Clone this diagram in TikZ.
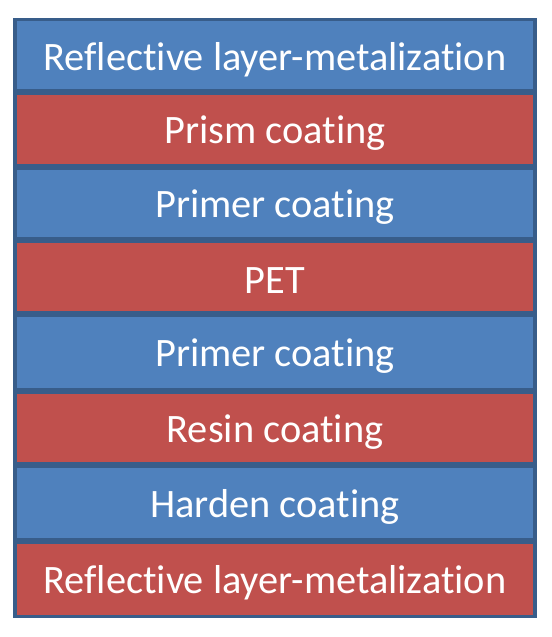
\documentclass[tikz,border=0pt]{standalone}
\usepackage{fontspec}
\setmainfont{Carlito}[Ligatures={NoCommon}]
\definecolor{layblue}{HTML}{4F81BD}
\definecolor{layred}{HTML}{C0504D}
\definecolor{layedge}{HTML}{385D8A}
\newcommand{\laytext}[1]{\raisebox{-4bp}[\height][\depth]{#1}}
\begin{document}
\begin{tikzpicture}[x=1bp,y=-1bp,
  layer/.style={draw=layedge, line width=3.5bp, minimum width=520bp, inner sep=0pt,
    text=white, font=\fontsize{40.5}{44}\selectfont, anchor=center},
  blue layer/.style={layer, fill=layblue},
  red layer/.style={layer, fill=layred}]
\useasboundingbox (0,0) rectangle (552,637);
% boundaries: 18, 92, 167, 240, 314, 391, 465, 541, 618
\node[blue layer, minimum height=71.25bp] (l1) at (275,55.375) {\laytext{Reflective layer-metalization}};
\node[red layer, minimum height=73bp] (l2) at (275,129.5) {\laytext{Prism coating}};
\node[blue layer, minimum height=71bp] (l3) at (275,203.5) {\laytext{Primer coating}};
\node[red layer, minimum height=72bp] (l4) at (275,277) {\laytext{PET}};
\node[blue layer, minimum height=75bp] (l5) at (275,352.5) {\laytext{Primer coating}};
\node[red layer, minimum height=72bp] (l6) at (275,428) {\laytext{Resin coating}};
\node[blue layer, minimum height=74bp] (l7) at (275,503) {\laytext{Harden coating}};
\node[red layer, minimum height=74.25bp] (l8) at (275,579.125) {\laytext{Reflective layer-metalization}};
\end{tikzpicture}
\end{document}
